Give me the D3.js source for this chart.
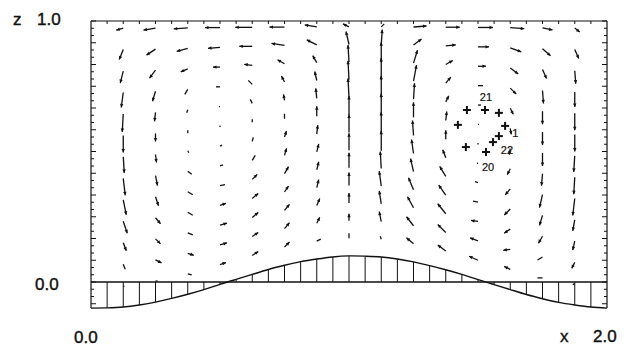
<!DOCTYPE html>
<meta charset="utf-8">
<html>
<head>
<script src="https://cdn.jsdelivr.net/npm/d3@7"></script>
<style>
  body { margin: 0; background: #fff; }
  text { font-family: "Liberation Sans", Arial, sans-serif; fill: #111; }
</style>
</head>
<body>
<div id="chart"></div>
<script>
// grid columns (x) and terrain-following levels (fraction of local depth)
var colX = [0.125, 0.25, 0.375, 0.5, 0.625, 0.75, 0.875, 1.0, 1.125, 1.25, 1.375, 1.5, 1.625, 1.75, 1.875];
var sigmaLevels = [0.075, 0.15, 0.225, 0.3, 0.375, 0.45, 0.525, 0.6, 0.675, 0.75, 0.825, 0.9, 0.975];

// bottom height, read at x = 0, 1/16, ..., 2
var bottomX = [0, 0.0625, 0.125, 0.1875, 0.25, 0.3125, 0.375, 0.4375, 0.5, 0.5625, 0.625, 0.6875, 0.75, 0.8125, 0.875, 0.9375,
  1.0, 1.0625, 1.125, 1.1875, 1.25, 1.3125, 1.375, 1.4375, 1.5, 1.5625, 1.625, 1.6875, 1.75, 1.8125, 1.875, 1.9375, 2.0];
var bottomZ = [-0.100, -0.099, -0.096, -0.088, -0.077, -0.063, -0.047, -0.029, -0.009, 0.010, 0.029, 0.048, 0.064, 0.078, 0.088, 0.096,
  0.100, 0.099, 0.096, 0.088, 0.077, 0.063, 0.047, 0.029, 0.009, -0.010, -0.029, -0.048, -0.064, -0.078, -0.088, -0.096, -0.100];

// horizontal velocity, one row per column, bottom level first
var uVel = [
  [1, 2, 3, 4, 3, 2, 1, 0, -1, -2, -3, -4, -7],
  [2, 6, 5, 5, 3, 2, 1, 0, -1, -3, -6, -9, -12],
  [4, 6, 5, 5, 5, 4, 1, 0, -1, -3, -7, -11, -14],
  [6, 7, 7, 6, 5, 3, 2, 0, -1, -4, -7, -12, -15],
  [6, 6, 6, 6, 5, 3, 1, 0, -2, -4, -8, -13, -17],
  [5, 5, 5, 4, 4, 2, 2, 0, -1, -3, -7, -13, -15],
  [4, 3, 3, 2, 2, 2, 1, 0, -1, -2, -4, -10, -12],
  [0, 0, 0, 0, 0, 0, 0, 0, -1, -1, -1, -3, -6],
  [-1, -2, -2, -2, -1, 0, 0, 0, 0, 0, 0, 1, 3],
  [-7, -7, -6, -5, -3, -2, -1, 0, 1, 3, 4, 8, 13],
  [-8, -8, -8, -7, -6, -3, 0, 1, 3, 5, 7, 10, 14],
  [-9, -8, -7, -5, -3, -1, 0, 1, 3, 5, 8, 11, 15],
  [-6, -7, -6, -6, -5, -3, -1, 1, 3, 6, 8, 11, 14],
  [-5, -5, -4, -3, -3, -1, 0, 0, 0, 1, 4, 8, 10],
  [-2, -3, -2, -2, -2, -1, -1, 0, 0, 0, 1, 4, 5]
];
// vertical velocity, same layout
var wVel = [
  [-1, -5, -8, -12, -15, -17, -16, -17, -18, -15, -12, -10, -2],
  [0, -3, -5, -6, -9, -10, -8, -8, -9, -10, -8, -6, -2],
  [-1, -2, -2, -3, -3, -3, -2, -3, -3, -5, -3, -3, -1],
  [2, 2, 2, 2, 1, 1, 1, 0, 0, 0, 0, -1, 0],
  [4, 4, 5, 5, 5, 5, 4, 3, 4, 4, 1, 0, 0],
  [5, 6, 6, 6, 7, 7, 6, 5, 6, 6, 4, 2, 0],
  [2, 6, 7, 8, 8, 8, 9, 10, 10, 9, 7, 5, 2],
  [5, 7, 10, 13, 15, 17, 18, 19, 19, 19, 17, 13, 3],
  [3, 10, 13, 15, 17, 20, 21, 22, 22, 22, 20, 15, 3],
  [6, 9, 11, 12, 13, 14, 15, 15, 16, 16, 13, 6, 1],
  [6, 8, 10, 10, 10, 8, 9, 9, 6, 6, 4, 1, 0],
  [4, 3, 1, 1, 1, 0, 0, 0, 0, 0, 0, 0, 0],
  [3, -1, -4, -6, -6, -6, -6, -6, -6, -6, -6, -4, -1],
  [0, -3, -7, -10, -13, -12, -13, -13, -13, -13, -9, -7, -2],
  [-1, -6, -9, -11, -17, -17, -16, -17, -17, -15, -13, -9, -4]
];

// particle positions (x, z) and labels
var markX = [1.457, 1.527, 1.581, 1.422, 1.605, 1.581, 1.558, 1.453, 1.531];
var markZ = [0.659, 0.659, 0.648, 0.602, 0.598, 0.559, 0.536, 0.517, 0.498];
var markLabels = ["21", "1", "22", "20"];
var labelX = [1.531, 1.645, 1.612, 1.539];
var labelZ = [0.709, 0.570, 0.506, 0.441];

var W = 637, H = 354;
var svg = d3.select("#chart").append("svg").attr("width", W).attr("height", H);

var x = d3.scaleLinear().domain([0, 2]).range([91, 607]);
var z = d3.scaleLinear().domain([0, 1]).range([282, 21]);
var vLen = d3.scaleLinear().domain([0, 1]).range([0, 1]); // velocity units -> px

function hAt(xv) { return bottomZ[bottomX.indexOf(xv)]; }

var ink = "#111";

// bottom hatching
svg.append("g").selectAll("line")
  .data(d3.range(1, bottomX.length - 1))
  .enter().append("line")
    .attr("x1", function (k) { return x(bottomX[k]); })
    .attr("x2", function (k) { return x(bottomX[k]); })
    .attr("y1", z(0))
    .attr("y2", function (k) { return z(bottomZ[k]); })
    .style("stroke", ink).style("stroke-width", 1);

// bottom curve
var line = d3.line()
  .x(function (d, i) { return x(bottomX[i]); })
  .y(function (d) { return z(d); })
  .curve(d3.curveNatural);
svg.append("path").datum(bottomZ)
  .attr("d", line)
  .style("fill", "none").style("stroke", ink).style("stroke-width", 1.4);

// frame
var zLeft = bottomZ[0], zRight = bottomZ[bottomZ.length - 1];
var frame = svg.append("g").style("stroke", ink).style("stroke-width", 1.2);
frame.append("line").attr("x1", x(0)).attr("x2", x(2)).attr("y1", z(1)).attr("y2", z(1));
frame.append("line").attr("x1", x(0)).attr("x2", x(0)).attr("y1", z(1)).attr("y2", z(zLeft));
frame.append("line").attr("x1", x(2)).attr("x2", x(2)).attr("y1", z(1)).attr("y2", z(zRight));
frame.append("line").attr("x1", x(0)).attr("x2", x(2)).attr("y1", z(0)).attr("y2", z(0))
  .style("stroke-width", 1.5);

// ticks
var tickG = svg.append("g").style("stroke", ink).style("stroke-width", 1);
tickG.selectAll(".tt").data(d3.range(1, 32)).enter().append("line")
  .attr("x1", function (k) { return x(k / 16); }).attr("x2", function (k) { return x(k / 16); })
  .attr("y1", z(1)).attr("y2", z(1) + 3);
var sideTicks = d3.range(-3, 37).map(function (k) { return k / 36; });
tickG.selectAll(".lt").data(sideTicks).enter().append("line")
  .attr("x1", x(0)).attr("x2", function (d, i) { return x(0) + (i % 3 === 0 ? 5 : 3); })
  .attr("y1", function (d) { return z(d); }).attr("y2", function (d) { return z(d); });
tickG.selectAll(".rt").data(sideTicks).enter().append("line")
  .attr("x1", x(2)).attr("x2", function (d, i) { return x(2) - (i % 3 === 0 ? 5 : 3); })
  .attr("y1", function (d) { return z(d); }).attr("y2", function (d) { return z(d); });

// velocity arrows
var arrows = [];
colX.forEach(function (cx, i) {
  var h = hAt(cx);
  sigmaLevels.forEach(function (s, k) {
    arrows.push({ x: cx, z: h + (1 - h) * s, u: uVel[i][k], w: wVel[i][k] });
  });
});

var ag = svg.append("g");
arrows.forEach(function (a) {
  var x0 = x(a.x), y0 = z(a.z);
  var dx = vLen(a.u), dy = -vLen(a.w);
  var L = Math.sqrt(dx * dx + dy * dy);
  if (L < 0.5) {
    ag.append("circle").attr("cx", x0).attr("cy", y0).attr("r", 0.8).style("fill", ink);
    return;
  }
  ag.append("line")
    .attr("x1", x0).attr("y1", y0).attr("x2", x0 + dx).attr("y2", y0 + dy)
    .style("stroke", ink).style("stroke-width", 1.3);
  if (L > 6) {
    var ux = dx / L, uy = dy / L, hl = 3.5, hw = 1.7;
    var tx = x0 + dx, ty = y0 + dy;
    var bx = tx - ux * hl, by = ty - uy * hl;
    ag.append("path")
      .attr("d", "M" + tx + "," + ty + "L" + (bx - uy * hw) + "," + (by + ux * hw) + "L" + (bx + uy * hw) + "," + (by - ux * hw) + "Z")
      .style("fill", ink);
  }
});

// particle markers
var mg = svg.append("g").style("stroke", ink).style("stroke-width", 2);
markX.forEach(function (mx, i) {
  var px = x(mx), py = z(markZ[i]);
  mg.append("line").attr("x1", px - 4).attr("x2", px + 4).attr("y1", py).attr("y2", py);
  mg.append("line").attr("x1", px).attr("x2", px).attr("y1", py - 4).attr("y2", py + 4);
});
svg.selectAll(".ml").data(markLabels).enter().append("text")
  .attr("x", function (d, i) { return x(labelX[i]); })
  .attr("y", function (d, i) { return z(labelZ[i]) + 4; })
  .attr("text-anchor", "middle")
  .style("font-size", "11px")
  .style("stroke", ink).style("stroke-width", 0.2)
  .text(function (d) { return d; });

// axis labels
function label(t, px, py) {
  svg.append("text").attr("x", px).attr("y", py)
    .style("font-size", "17px")
    .style("stroke", ink).style("stroke-width", 0.4)
    .text(t);
}
label("z", 13, 25);
label("1.0", 37, 25);
label("0.0", 35, 290);
label("0.0", 74, 343);
label("x", 560, 342);
label("2.0", 593, 342);
</script>
</body>
</html>
